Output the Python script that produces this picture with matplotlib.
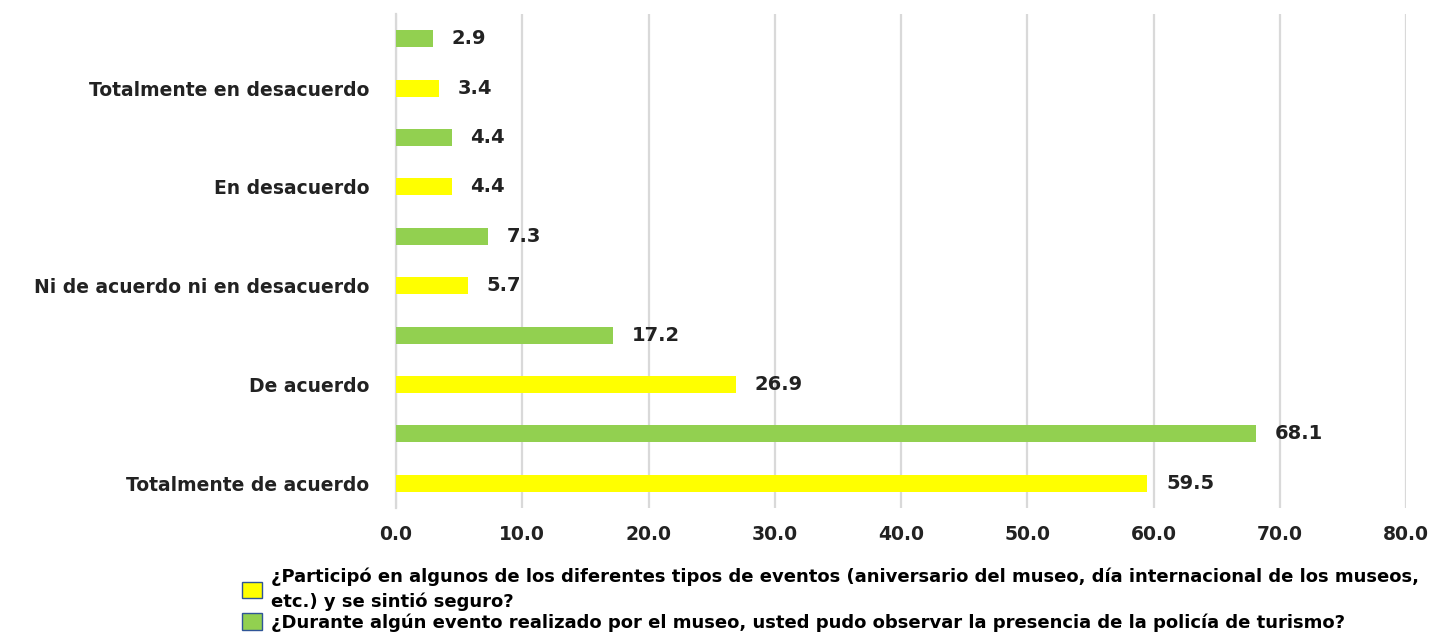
import matplotlib

matplotlib.use("Agg")
import matplotlib.pyplot as plt
from matplotlib.patches import Patch

# rows from bottom to top (each answer has a yellow and a green bar)
categories = [
    "Totalmente de acuerdo",
    "De acuerdo",
    "Ni de acuerdo ni en desacuerdo",
    "En desacuerdo",
    "Totalmente en desacuerdo",
]
eventos = [59.5, 26.9, 5.7, 4.4, 3.4]
policia = [68.1, 17.2, 7.3, 4.4, 2.9]
series_names = [
    "¿Participó en algunos de los diferentes tipos de eventos (aniversario del museo, día internacional de los museos,\netc.) y se sintió seguro?",
    "¿Durante algún evento realizado por el museo, usted pudo observar la presencia de la policía de turismo?",
]
x_ticks = [0, 10, 20, 30, 40, 50, 60, 70, 80]

YELLOW = "#FFFF00"
GREEN = "#92D050"
GRID = "#D9D9D9"
TEXT = "#222222"

fig = plt.figure(figsize=(14.32, 6.32), dpi=100)
ax = fig.add_axes([396 / 1432, 1 - 508 / 632, (1406 - 396) / 1432, (508 - 14) / 632])

pos_y = [2 * i for i in range(len(categories))]
pos_g = [2 * i + 1 for i in range(len(categories))]
h = 0.345
ax.barh(pos_y, eventos, height=h, color=YELLOW, zorder=3)
ax.barh(pos_g, policia, height=h, color=GREEN, zorder=3)

for p, v in zip(pos_y + pos_g, eventos + policia):
    ax.text(v + 1.5, p, f"{v:.1f}", va="center", ha="left",
            fontsize=14, fontweight="bold", color=TEXT)

ax.set_xlim(0, 80)
ax.set_ylim(-0.5, 2 * len(categories) - 0.5)
ax.set_xticks(x_ticks)
ax.set_xticklabels([f"{t:.1f}" for t in x_ticks], fontsize=13.5, fontweight="bold", color=TEXT)
ax.set_yticks(pos_y)
ax.set_yticklabels(categories, fontsize=13.5, fontweight="bold", color=TEXT)
ax.tick_params(axis="x", length=0, pad=12)
ax.tick_params(axis="y", length=0, pad=19)
ax.grid(axis="x", color=GRID, linewidth=1.6, zorder=0)
for s in ["top", "right", "bottom"]:
    ax.spines[s].set_visible(False)
ax.spines["left"].set_color(GRID)
ax.spines["left"].set_linewidth(1.6)

handles = [
    Patch(facecolor=YELLOW, edgecolor="#2F5597", linewidth=1),
    Patch(facecolor=GREEN, edgecolor="#2F5597", linewidth=1),
]
leg = fig.legend(handles, series_names, loc="upper left", bbox_to_anchor=(233 / 1432, 1 - 558 / 632),
                 frameon=False, handlelength=1.1, handleheight=1.0, handletextpad=0.5,
                 labelspacing=0.15, borderpad=0,
                 prop={"family": ["Liberation Sans Narrow", "DejaVu Sans"], "size": 13, "weight": "bold"})
for t in leg.get_texts():
    t.set_linespacing(1.45)

fig.savefig("out.png", dpi=100)
